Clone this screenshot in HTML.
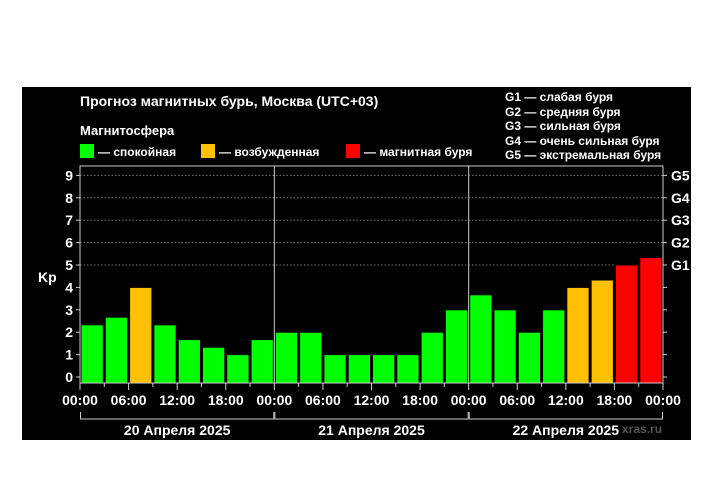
<!DOCTYPE html>
<html><head><meta charset="utf-8"><style>
body{margin:0;background:#fff;width:720px;height:500px;overflow:hidden}
svg{display:block;font-family:"Liberation Sans",sans-serif;font-weight:bold}
</style></head><body>
<svg id="c" width="720" height="500">
<rect x="22" y="87" width="669" height="353" fill="#000"/>
<text x="80" y="106" fill="#fff" font-size="14">Прогноз магнитных бурь, Москва (UTC+03)</text>
<text x="80" y="135" fill="#fff" font-size="13">Магнитосфера</text>
<g><rect x="80" y="144" width="14" height="14" fill="#00ff00"/><text x="98" y="156" fill="#fff" font-size="12">— спокойная</text></g>
<g><rect x="201" y="144" width="14" height="14" fill="#ffc000"/><text x="219" y="156" fill="#fff" font-size="12">— возбужденная</text></g>
<g><rect x="346" y="144" width="14" height="14" fill="#ff0000"/><text x="364" y="156" fill="#fff" font-size="12">— магнитная буря</text></g>
<g fill="#fff" font-size="12">
<text x="505" y="101">G1 — слабая буря</text>
<text x="505" y="116">G2 — средняя буря</text>
<text x="505" y="130">G3 — сильная буря</text>
<text x="505" y="145">G4 — очень сильная буря</text>
<text x="505" y="159">G5 — экстремальная буря</text>
</g>
<text x="38" y="282" fill="#fff" font-size="14">Kp</text>
<text x="622" y="433" fill="#555" font-size="12">xras.ru</text>
<g id="g"></g>
</svg>
<script>
const kpValues=[2.33,2.67,4,2.33,1.67,1.33,1,1.67, 2,2,1,1,1,1,2,3, 3.67,3,2,3,4,4.33,5,5.33];
const yTicks=[0,1,2,3,4,5,6,7,8,9];
const gLabels=["G1","G2","G3","G4","G5"];
const timeLabels=["00:00","06:00","12:00","18:00"];
const dayLabels=["20 Апреля 2025","21 Апреля 2025","22 Апреля 2025"];
const L=80,R=663,T=166,B=383;
const y=v=>377-v*22.4;
const bw=(R-L)/kpValues.length;
const x=i=>L+i*bw;
const g=document.getElementById('g');
const NS="http://www.w3.org/2000/svg";
function mk(t,a,txt){const e=document.createElementNS(NS,t);for(const k in a)e.setAttribute(k,a[k]);if(txt!==undefined)e.textContent=txt;g.appendChild(e);return e;}
yTicks.forEach(v=>{
 if(v>=5){const l=mk('line',{x1:L,x2:R,y1:y(v),y2:y(v),stroke:'#777','stroke-dasharray':'1.5,2','stroke-width':1});
 
 }
 const t=mk('line',{x1:L-4,x2:L,y1:y(v),y2:y(v),stroke:'#ccc'});
 
 
 const t2=mk('line',{x1:R,x2:R+4,y1:y(v),y2:y(v),stroke:'#ccc'});
 
 
 const tx=mk('text',{x:L-7,y:y(v)+5,fill:'#fff','font-size':14,'text-anchor':'end'},String(v));
 
 
});
gLabels.forEach((s,i)=>{
 const tx=mk('text',{x:R+8,y:y(5+i)+5,fill:'#fff','font-size':14},s);
 
 
});
kpValues.forEach((v,i)=>{
 const c=v>=5?'#ff0000':(v>=4?'#ffc000':'#00ff00');
 const r=mk('rect',{x:x(i)+1,y:y(v),width:bw-2,height:B-y(v),fill:c,stroke:'#000','stroke-width':1});
 
 
});
mk('rect',{x:L,y:T,width:R-L,height:B-T,fill:'none',stroke:'#ccc','stroke-width':1});
for(let d=0;d<3;d++){
 const x0=x(d*8),x1=x(d*8+8);
 if(d>0){const s=mk('line',{x1:x0,x2:x0,y1:T,y2:B,stroke:'#ccc'});
 
 }
 const br=mk('path',{d:`M${x0+0.5} 412V419H${x1-0.5}V412`,fill:'none',stroke:'#ccc'});
 
 
 const dl=mk('text',{x:(x0+x1)/2,y:435,fill:'#fff','font-size':14,'text-anchor':'middle'},dayLabels[d]);
 
 
}
for(let i=0;i<=24;i++){
 const tk=mk('line',{x1:x(i),x2:x(i),y1:B,y2:B+(i%2?4:7),stroke:'#ccc'});
 
 
 if(i%2===0){
  const tl=mk('text',{x:x(i),y:405,fill:'#fff','font-size':14,'text-anchor':'middle'},timeLabels[(i/2)%4]);
  
  
 }
}
</script>
</body></html>
